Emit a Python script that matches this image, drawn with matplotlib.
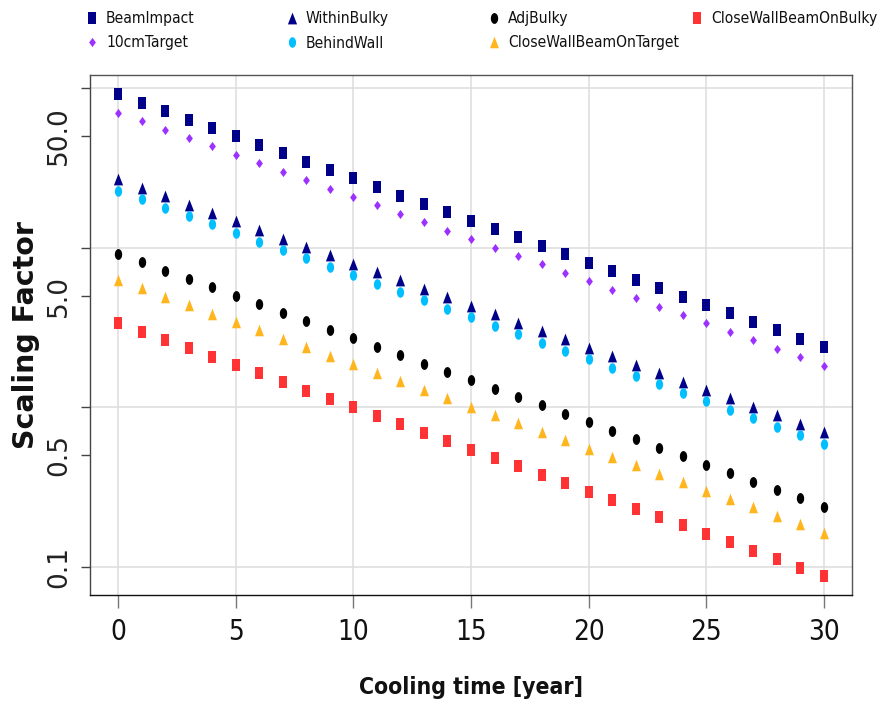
import numpy as np
import matplotlib
matplotlib.use("Agg")
import matplotlib.pyplot as plt
from matplotlib import font_manager
from matplotlib.font_manager import FontProperties
from matplotlib.lines import Line2D
from matplotlib.ticker import FixedLocator, FixedFormatter

# ---------------- data ----------------
years = list(range(0, 31))

beam_impact = [91.3, 80.9, 71.6, 63.4, 56.2, 49.7, 44.0, 39.0, 34.5, 30.6,
               27.1, 24.0, 21.2, 18.8, 16.6, 14.7, 13.0, 11.6, 10.2, 9.06,
               8.03, 7.11, 6.29, 5.57, 4.93, 4.37, 3.87, 3.43, 3.03, 2.69, 2.38]
target_10cm = [70.0, 62.0, 54.9, 48.6, 43.1, 38.1, 33.8, 29.9, 26.5, 23.4,
               20.8, 18.4, 16.3, 14.4, 12.8, 11.3, 10.0, 8.86, 7.85, 6.95,
               6.15, 5.45, 4.83, 4.27, 3.78, 3.35, 2.97, 2.63, 2.33, 2.06, 1.82]
within_bulky = [26.8, 23.7, 21.0, 18.6, 16.5, 14.6, 12.9, 11.4, 10.1, 8.97,
                7.95, 7.04, 6.23, 5.52, 4.89, 4.33, 3.83, 3.39, 3.00, 2.66,
                2.36, 2.09, 1.85, 1.64, 1.45, 1.28, 1.14, 1.01, 0.891, 0.789, 0.698]
behind_wall = [22.7, 20.1, 17.8, 15.8, 14.0, 12.4, 10.9, 9.70, 8.59, 7.60,
               6.73, 5.96, 5.28, 4.67, 4.14, 3.66, 3.24, 2.87, 2.54, 2.25,
               2.00, 1.77, 1.56, 1.39, 1.23, 1.09, 0.962, 0.852, 0.754, 0.668, 0.592]
adj_bulky = [9.15, 8.10, 7.18, 6.36, 5.63, 4.98, 4.41, 3.91, 3.46, 3.06,
             2.71, 2.40, 2.13, 1.88, 1.67, 1.48, 1.31, 1.16, 1.03, 0.908,
             0.804, 0.712, 0.631, 0.559, 0.495, 0.438, 0.388, 0.343, 0.304, 0.269, 0.238]
cw_beam_on_target = [6.28, 5.56, 4.93, 4.36, 3.86, 3.42, 3.03, 2.68, 2.38, 2.10,
                     1.86, 1.65, 1.46, 1.29, 1.14, 1.01, 0.898, 0.795, 0.704, 0.623,
                     0.552, 0.489, 0.433, 0.383, 0.339, 0.301, 0.266, 0.236, 0.209, 0.185, 0.164]
cw_beam_on_bulky = [3.37, 2.98, 2.64, 2.34, 2.07, 1.83, 1.63, 1.44, 1.27, 1.13,
                    0.999, 0.885, 0.784, 0.694, 0.614, 0.544, 0.482, 0.427, 0.378, 0.335,
                    0.296, 0.262, 0.232, 0.206, 0.182, 0.161, 0.143, 0.126, 0.112, 0.0992, 0.0878]

labels = ["BeamImpact", "10cmTarget", "WithinBulky", "BehindWall",
          "AdjBulky", "CloseWallBeamOnTarget", "CloseWallBeamOnBulky"]
series = [beam_impact, target_10cm, within_bulky, behind_wall,
          adj_bulky, cw_beam_on_target, cw_beam_on_bulky]

x_ticks = [0, 5, 10, 15, 20, 25, 30]
y_grid = [0.1, 1, 10, 100]
y_labelled = [0.5, 5, 50]
y_grid_labels = ["0.1", "", "", ""]
y_labelled_labels = ["0.5", "5.0", "50.0"]

# ---------------- marker shapes (tall, narrow glyphs) ----------------
square = [(-0.33, -0.5), (0.33, -0.5), (0.33, 0.5), (-0.33, 0.5)]
triangle = [(-0.39, -0.5), (0.39, -0.5), (0.0, 0.5)]
diamond = [(0.0, -0.5), (0.37, 0.0), (0.0, 0.5), (-0.37, 0.0)]
_t = np.linspace(0, 2 * np.pi, 40, endpoint=False)
ellipse = list(zip(0.34 * np.cos(_t), 0.5 * np.sin(_t)))

styles = {
    "BeamImpact": dict(marker=square, color="#000088", ms=8.0),
    "10cmTarget": dict(marker=diamond, color="#9B30FF", ms=6.6),
    "WithinBulky": dict(marker=triangle, color="#000088", ms=8.5),
    "BehindWall": dict(marker=ellipse, color="#00BFFF", ms=7.6),
    "AdjBulky": dict(marker=ellipse, color="#000000", ms=7.8),
    "CloseWallBeamOnTarget": dict(marker=triangle, color="#FFB61E", ms=8.3),
    "CloseWallBeamOnBulky": dict(marker=square, color="#FF3333", ms=8.0),
}


# ---------------- fonts: prefer a narrow sans for horizontal text ----------------
def find_narrow(bold=False):
    entries = font_manager.fontManager.ttflist
    prefs = ["liberationsansnarrow", "arialnarrow", "dejavusanscondensed",
             "robotocondensed", "opensanscondensed", "notosanscondensed"]
    for key in prefs:
        for f in entries:
            base = f.fname.replace("-", "").replace("_", "").replace(" ", "").lower()
            base = base.rsplit("/", 1)[-1]
            if not base.startswith(key):
                continue
            is_bold = "bold" in base
            is_ital = "italic" in base or "oblique" in base
            if is_bold == bold and not is_ital:
                return f.fname
    return None


narrow_reg = find_narrow(False)
narrow_bold = find_narrow(True)


def narrow_props(size, bold=False):
    path = narrow_bold if bold else narrow_reg
    if path:
        return FontProperties(fname=path, size=size)
    return FontProperties(family="Liberation Sans", size=size * 0.85,
                          weight="bold" if bold else "normal")


# ---------------- figure ----------------
W, H = 882, 708
fig = plt.figure(figsize=(W / 100, H / 100), dpi=100)
ax = fig.add_axes([90 / W, 1 - 595 / H, (852 - 90) / W, (595 - 75) / H])

for name, vals in zip(labels, series):
    st = styles[name]
    ax.plot(years, vals, linestyle="none", marker=st["marker"],
            markersize=st["ms"], markerfacecolor=st["color"],
            markeredgewidth=0, zorder=3)

ax.set_yscale("log")
ax.set_xlim(-1.2, 31.2)
ax.set_ylim(0.0668, 120.5)

# x axis
ax.xaxis.set_major_locator(FixedLocator(x_ticks))
ax.xaxis.set_minor_locator(FixedLocator([]))
ax.tick_params(axis="x", which="major", length=9.5, width=1.0, color="#777777",
               pad=7, labelcolor="#111111")
for lab in ax.get_xticklabels():
    lab.set_fontproperties(narrow_props(20))

# y axis: gridlines at decades, labels at 0.1, 0.5, 5, 50
ax.yaxis.set_major_locator(FixedLocator(y_grid))
ax.yaxis.set_major_formatter(FixedFormatter(y_grid_labels))
ax.yaxis.set_minor_locator(FixedLocator(y_labelled))
ax.yaxis.set_minor_formatter(FixedFormatter(y_labelled_labels))
for which in ("major", "minor"):
    ax.tick_params(axis="y", which=which, length=6.5, width=1.0, color="#444444",
                   pad=6.5, labelsize=19, labelcolor="#222222", labelrotation=90)
for lab in ax.get_yticklabels(which="both"):
    lab.set_fontfamily("DejaVu Sans")
    lab.set_verticalalignment("center")

ax.grid(True, which="major", axis="both", color="#DDDDDD", linewidth=1.1, zorder=0)
ax.set_axisbelow(True)

for side, col in (("left", "#444444"), ("bottom", "#111111"),
                  ("top", "#555555"), ("right", "#555555")):
    ax.spines[side].set_color(col)
    ax.spines[side].set_linewidth(1.0)

ax.set_xlabel("Cooling time [year]", fontproperties=narrow_props(16.5, bold=True),
              labelpad=22, color="#111111")
ax.set_ylabel("Scaling Factor", fontsize=20.5, fontweight="bold",
              fontfamily="DejaVu Sans", labelpad=4, color="#111111")


# ---------------- legend: four columns across the top ----------------
def handle(name):
    st = styles[name]
    return Line2D([], [], linestyle="none", marker=st["marker"],
                  markersize=st["ms"], markerfacecolor=st["color"],
                  markeredgewidth=0)


columns = [
    (92, ["BeamImpact", "10cmTarget"]),
    (292, ["WithinBulky", "BehindWall"]),
    (494, ["AdjBulky", "CloseWallBeamOnTarget"]),
    (697, ["CloseWallBeamOnBulky"]),
]
leg_props = narrow_props(11.2)
fs_px = leg_props.get_size_in_points() * 100 / 72
hl = 14 / fs_px
htp = 7 / fs_px
for xm, names in columns:
    left = xm - hl * fs_px / 2
    leg = fig.legend(handles=[handle(n) for n in names], labels=names,
                     loc="upper left", bbox_to_anchor=(left / W, 1 - 11 / H),
                     frameon=False, borderpad=0, borderaxespad=0,
                     handlelength=hl, handletextpad=htp,
                     labelspacing=9.5 / fs_px, prop=leg_props)
    for t in leg.get_texts():
        t.set_color("#111111")

fig.savefig("out.png", dpi=100)
